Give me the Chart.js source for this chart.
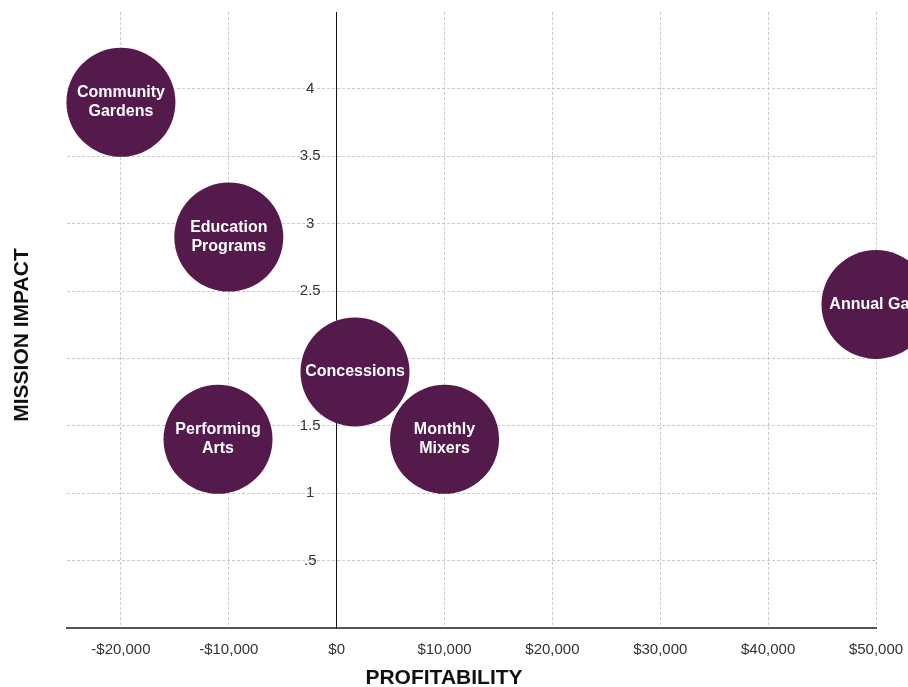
<!DOCTYPE html>
<html>
<head>
<meta charset="utf-8">
<script src="https://cdn.jsdelivr.net/npm/chart.js@4/dist/chart.umd.min.js"></script>
<style>
  html, body { margin: 0; padding: 0; background: #fff; }
  #wrap { width: 908px; height: 687px; }
</style>
</head>
<body>
<div id="wrap"><canvas id="chart" width="908" height="687"></canvas></div>
<script>
// programs and their position on the matrix
const programs = ["Community Gardens", "Education Programs", "Annual Gala", "Concessions", "Performing Arts", "Monthly Mixers"];
const programLines = [["Community", "Gardens"], ["Education", "Programs"], ["Annual Gala"], ["Concessions"], ["Performing", "Arts"], ["Monthly", "Mixers"]];
const profitability = [-20000, -10000, 50000, 1700, -11000, 10000];
const missionImpact = [3.9, 2.9, 2.4, 1.9, 1.4, 1.4];

// axis ticks
const xTickValues = [-20000, -10000, 0, 10000, 20000, 30000, 40000, 50000];
const yTickValues = [0, 0.5, 1, 1.5, 2, 2.5, 3, 3.5, 4];
const yTickLabels = ["", ".5", "1", "1.5", "2", "2.5", "3", "3.5", "4"];

const xTitle = "PROFITABILITY";
const yTitle = "MISSION IMPACT";

const FONT = "'Liberation Sans', Arial, Helvetica, sans-serif";
const BUBBLE = "#541a4c";
const GRID = "#cacaca";

function money(v) {
  const s = "$" + Math.abs(v).toLocaleString("en-US");
  return v < 0 ? "-" + s : s;
}

// y labels sit left of the zero line, under the bubbles
const yAxisLabels = {
  id: "yAxisLabels",
  beforeDatasetsDraw(chart) {
    const ctx = chart.ctx;
    const xs = chart.scales.x, ys = chart.scales.y;
    const x0 = xs.getPixelForValue(0);
    ctx.save();
    ctx.fillStyle = "#333";
    ctx.font = "15px " + FONT;
    ctx.textAlign = "center";
    ctx.textBaseline = "middle";
    const widest = Math.max(...yTickLabels.map(t => ctx.measureText(t).width));
    const cx = x0 - 16 - widest / 2;
    yTickValues.forEach((v, i) => {
      ctx.fillText(yTickLabels[i], cx, ys.getPixelForValue(v));
    });
    ctx.restore();
  }
};

// white text inside each bubble
const bubbleLabels = {
  id: "bubbleLabels",
  afterDatasetsDraw(chart) {
    const ctx = chart.ctx;
    const meta = chart.getDatasetMeta(0);
    ctx.save();
    ctx.fillStyle = "#ffffff";
    ctx.font = "bold 16px " + FONT;
    ctx.textAlign = "center";
    ctx.textBaseline = "middle";
    meta.data.forEach((el, i) => {
      const lines = programLines[i];
      const lh = 19;
      const y0 = el.y - (lines.length - 1) * lh / 2;
      lines.forEach((t, j) => ctx.fillText(t, el.x, y0 + j * lh));
    });
    ctx.restore();
  }
};

// axis titles
const axisTitles = {
  id: "axisTitles",
  afterDraw(chart) {
    const ctx = chart.ctx;
    ctx.save();
    ctx.fillStyle = "#111";
    ctx.font = "bold 21px " + FONT;
    ctx.textAlign = "center";
    ctx.textBaseline = "middle";
    ctx.fillText(xTitle, 444, 678);
    ctx.translate(22, 335);
    ctx.rotate(-Math.PI / 2);
    ctx.fillText(yTitle, 0, 0);
    ctx.restore();
  }
};

new Chart(document.getElementById("chart"), {
  type: "bubble",
  data: {
    datasets: [{
      label: "Programs",
      data: programs.map((p, i) => ({ x: profitability[i], y: missionImpact[i] })),
      backgroundColor: BUBBLE,
      borderWidth: 0,
      radius: 54.5,
      hoverRadius: 0,
      clip: false
    }]
  },
  options: {
    responsive: false,
    animation: false,
    events: [],
    layout: { autoPadding: false, padding: { left: 67, right: 32, top: 12, bottom: 28 } },
    plugins: {
      legend: { display: false },
      tooltip: { enabled: false }
    },
    scales: {
      x: {
        type: "linear",
        min: -25000,
        max: 50000,
        afterBuildTicks: (s) => { s.ticks = xTickValues.map(v => ({ value: v })); },
        grid: {
          color: (c) => (c.tick && c.tick.value === 0) ? "rgba(0,0,0,0)" : GRID,
          lineWidth: 1,
          drawTicks: true,
          tickLength: 13,
          tickColor: "rgba(0,0,0,0)"
        },
        border: { display: true, color: "#555", width: 2, dash: [3, 2] },
        ticks: {
          padding: 0,
          color: "#333",
          font: { family: FONT, size: 15 },
          maxRotation: 0,
          callback: (v) => money(v)
        }
      },
      y: {
        type: "linear",
        position: { x: 0 },
        min: 0,
        max: 4.57,
        afterBuildTicks: (s) => { s.ticks = yTickValues.map(v => ({ value: v })); },
        grid: {
          color: (c) => (c.tick && c.tick.value === 0) ? "rgba(0,0,0,0)" : GRID,
          lineWidth: 1,
          drawTicks: false
        },
        border: { display: true, color: "#111", width: 1, dash: [3, 2] },
        ticks: { display: false }
      }
    }
  },
  plugins: [yAxisLabels, bubbleLabels, axisTitles]
});
</script>
</body>
</html>
